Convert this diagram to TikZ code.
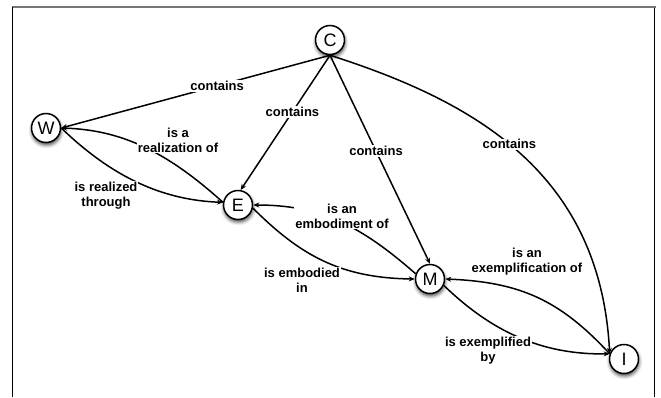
\documentclass[tikz,border=0pt]{standalone}
\usepackage{fontspec}
\setmainfont{Liberation Sans}
\usetikzlibrary{arrows.meta,shadows.blur}
\definecolor{framegray}{RGB}{118,118,118}
\begin{document}
\begin{tikzpicture}[x=1pt,y=-1pt,
  ent/.style={circle,draw=black,line width=1.5pt,fill=white,minimum size=29pt,inner sep=0pt,
    font=\fontsize{18}{18}\selectfont,
    blur shadow={shadow xshift=0.5pt,shadow yshift=-2.5pt,shadow blur radius=3.5pt,shadow opacity=75}},
  rel/.style={line width=1.5pt,-{Stealth[length=6pt,width=5pt]}},
  lbl/.style={fill=white,inner sep=1pt,align=center,font=\fontsize{13}{15}\selectfont\bfseries}]
\useasboundingbox (0,0) rectangle (661,397);
% frame
\draw[line width=2pt,framegray] (11.5,7) -- (655.5,7);
\draw[line width=1.3pt,black] (12.3,7) -- (12.3,397);
\draw[line width=1.3pt,black] (654.6,8) -- (654.6,397);
% entities
\node[ent] (C) at (330,40) {C};
\node[ent] (W) at (46,128) {W};
\node[ent] (E) at (238,205) {E};
\node[ent] (M) at (430,279) {M};
\node[ent] (I) at (624,359) {I};
% contains
\draw[rel] (C.south) -- node[lbl,pos=0.42]{contains} (W.east);
\draw[rel] (C.south) -- node[lbl,pos=0.42]{contains} (E.80);
\draw[rel] (C.south) -- node[lbl,pos=0.46]{contains} (M.north);
\draw[rel] (C.south) .. controls (470,100) and (600,170) .. node[lbl,pos=0.47]{contains} (I.160);
% W / E
\draw[rel] (E.170) .. controls (165,150) and (120,130) .. (W.east);
\node[lbl] (l5) at (178,140) {is a\\realization of};
\draw[rel] (W.east) .. controls (110,175) and (160,200) .. (E.170);
\node[lbl] (l6) at (106,196) {is realized\\through};
% E / M
\draw[rel] (M.160) .. controls (360,225) and (320,205) .. (E.east);
\node[lbl] (l7) at (342,216) {is an\\embodiment of};
\draw[rel] (E.-12) .. controls (300,255) and (340,278) .. (M.west);
\node[lbl] (l8) at (302,280) {is embodied\\in};
% M / I
\draw[rel] (I.160) .. controls (560,300) and (520,282) .. (M.east);
\node[lbl] (l9) at (527,262) {is an\\exemplification of};
\draw[rel] (M.-25) .. controls (490,330) and (540,355) .. (I.160);
\node[lbl] (l10) at (488,351) {is exemplified\\by};
\end{tikzpicture}
\end{document}
